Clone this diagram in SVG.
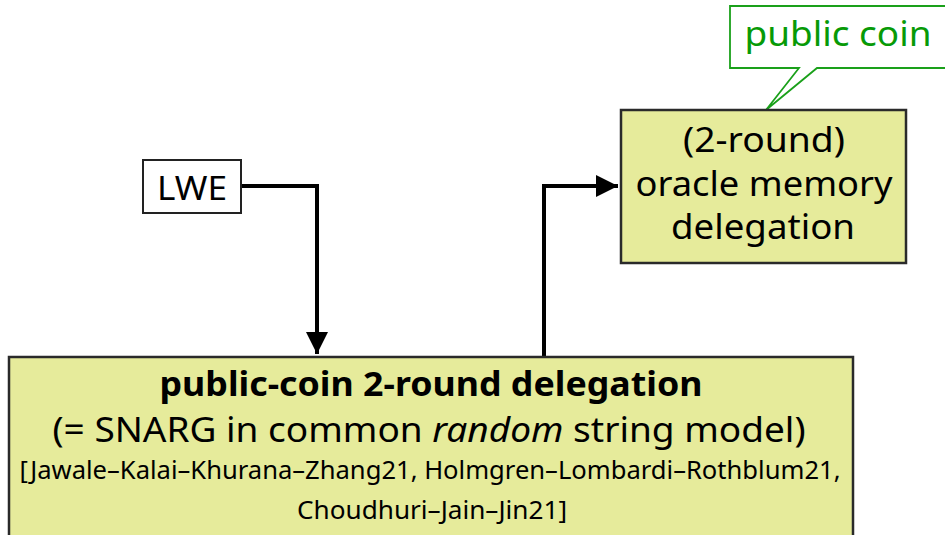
<svg xmlns="http://www.w3.org/2000/svg" width="945" height="535" viewBox="0 0 945 535">
<style>
.box{fill:#e6eb9b;stroke:#2a2a2a;stroke-width:2.5}
.t{font-family:"Noto Sans","Open Sans","Liberation Sans",sans-serif;fill:#000;text-anchor:middle}
.edge{fill:none;stroke:#000;stroke-width:4}
</style>
<defs>
<marker id="ah" viewBox="0 0 10 10" refX="10" refY="5" markerWidth="5.5" markerHeight="5.5" markerUnits="strokeWidth" orient="auto">
<path d="M0,0 L10,5 L0,10 Z" fill="#000"/>
</marker>
</defs>
<g id="connectors">
<path class="edge" d="M241,186 H317 V354" marker-end="url(#ah)"/>
<path class="edge" d="M544,357 V186 H618" marker-end="url(#ah)"/>
</g>
<g id="callout">
<path d="M730,6 H950 V68 H817 L766,110 L799,68 H730 Z" fill="#fff" stroke="#1aa01a" stroke-width="1.8"/>
<text x="838" y="46" class="t" style="fill:#079a07;font-size:34px" textLength="187" lengthAdjust="spacingAndGlyphs">public coin</text>
</g>
<g id="lwe">
<rect x="143" y="160" width="98" height="53" fill="#fff" stroke="#222" stroke-width="2"/>
<text x="192" y="200" class="t" style="font-size:33px" textLength="70" lengthAdjust="spacingAndGlyphs">LWE</text>
</g>
<g id="oracle">
<rect class="box" x="621" y="110" width="285" height="153"/>
<text x="764" y="152" class="t" style="font-size:34px" textLength="162" lengthAdjust="spacingAndGlyphs">(2-round)</text>
<text x="764" y="196" class="t" style="font-size:34px" textLength="257" lengthAdjust="spacingAndGlyphs">oracle memory</text>
<text x="763" y="239" class="t" style="font-size:34px" textLength="184" lengthAdjust="spacingAndGlyphs">delegation</text>
</g>
<g id="delegation">
<rect class="box" x="9" y="357" width="844" height="190"/>
<text x="431" y="396" class="t" style="font-size:34px;font-weight:bold" textLength="543" lengthAdjust="spacingAndGlyphs">public-coin 2-round delegation</text>
<text x="429" y="442" class="t" style="font-size:34px" textLength="753" lengthAdjust="spacingAndGlyphs">(= SNARG in common <tspan font-style="italic">random</tspan> string model)</text>
<text x="430" y="479" class="t" style="font-size:25px" textLength="821" lengthAdjust="spacingAndGlyphs">[Jawale–Kalai–Khurana–Zhang21, Holmgren–Lombardi–Rothblum21,</text>
<text x="432" y="519" class="t" style="font-size:25px" textLength="270" lengthAdjust="spacingAndGlyphs">Choudhuri–Jain–Jin21]</text>
</g>
</svg>
